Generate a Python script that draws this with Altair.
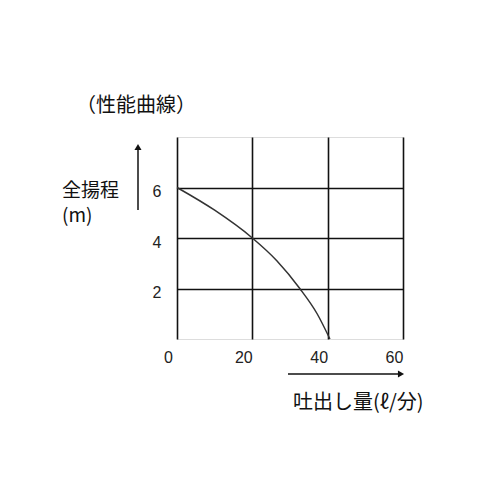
import altair as alt
import pandas as pd

flow = [0, 10, 20, 26.5, 32.6, 37.2, 40.6]
head = [6, 5.1, 4, 3.1, 2, 1, 0]
x_ticks = [0, 20, 40, 60]
y_ticks = [2, 4, 6]

df = pd.DataFrame({"flow": flow, "head": head})

JP = "Noto Sans CJK JP"
NUM = "Liberation Sans"

xs = alt.Scale(domain=[0, 60], nice=False, zero=False)
ys = alt.Scale(domain=[0, 8], nice=False, zero=False)

base = alt.Chart(df)

curve = base.mark_line(color="#333333", strokeWidth=1.5, interpolate="monotone", clip=False).encode(
    x=alt.X("flow:Q", scale=xs, axis=alt.Axis(
        values=x_ticks, title=None, grid=True, gridColor="#111111", gridWidth=1.6,
        domain=False, ticks=False, labelFont=NUM, labelFontSize=16, labelColor="#222222",
        labelPadding=10, labelOffset=-9, labelFlush=False)),
    y=alt.Y("head:Q", scale=ys, axis=alt.Axis(
        values=y_ticks, title=None, grid=True, gridColor="#111111", gridWidth=1.6,
        domain=False, ticks=False, labelFont=NUM, labelFontSize=16, labelColor="#222222",
        labelPadding=16, labelOffset=4, labelFlush=False)),
)

def txt(s, x, y, align="left", size=20):
    return alt.Chart(pd.DataFrame({"t": [s]})).mark_text(
        text=s, font=JP, fontSize=size, align=align, baseline="middle", color="#111111"
    ).encode(x=alt.value(x), y=alt.value(y))

title = txt("（性能曲線）", -41, -31, align="center")
ylab1 = txt("全揚程", -115, 54, size=19)
ylab2 = txt("(m)", -115, 79, size=19)
xlab = txt("吐出し量(ℓ/分)", 116, 266)

up_line = alt.Chart(pd.DataFrame({"a": [0]})).mark_rule(color="#111111", strokeWidth=1.5).encode(
    x=alt.value(-39), y=alt.value(12), y2=alt.value(73))
up_head = alt.Chart(pd.DataFrame({"a": [0]})).mark_point(
    shape="triangle-up", filled=True, color="#111111", size=50, opacity=1).encode(
    x=alt.value(-39), y=alt.value(10))
right_line = alt.Chart(pd.DataFrame({"a": [0]})).mark_rule(color="#111111", strokeWidth=1.5).encode(
    x=alt.value(111), x2=alt.value(222), y=alt.value(237))
right_head = alt.Chart(pd.DataFrame({"a": [0]})).mark_point(
    shape="triangle-right", filled=True, color="#111111", size=50, opacity=1).encode(
    x=alt.value(224), y=alt.value(237))

chart = alt.layer(curve, title, ylab1, ylab2, xlab, up_line, up_head, right_line, right_head).properties(
    width=226, height=202,
    autosize=alt.AutoSizeParams(type="none"),
    padding={"left": 169, "top": 129, "right": 60, "bottom": 140},
).configure_view(stroke="#111111", strokeWidth=1.6).configure(background="white")

chart.save("out.html", embed_options={"renderer": "svg", "actions": False})
